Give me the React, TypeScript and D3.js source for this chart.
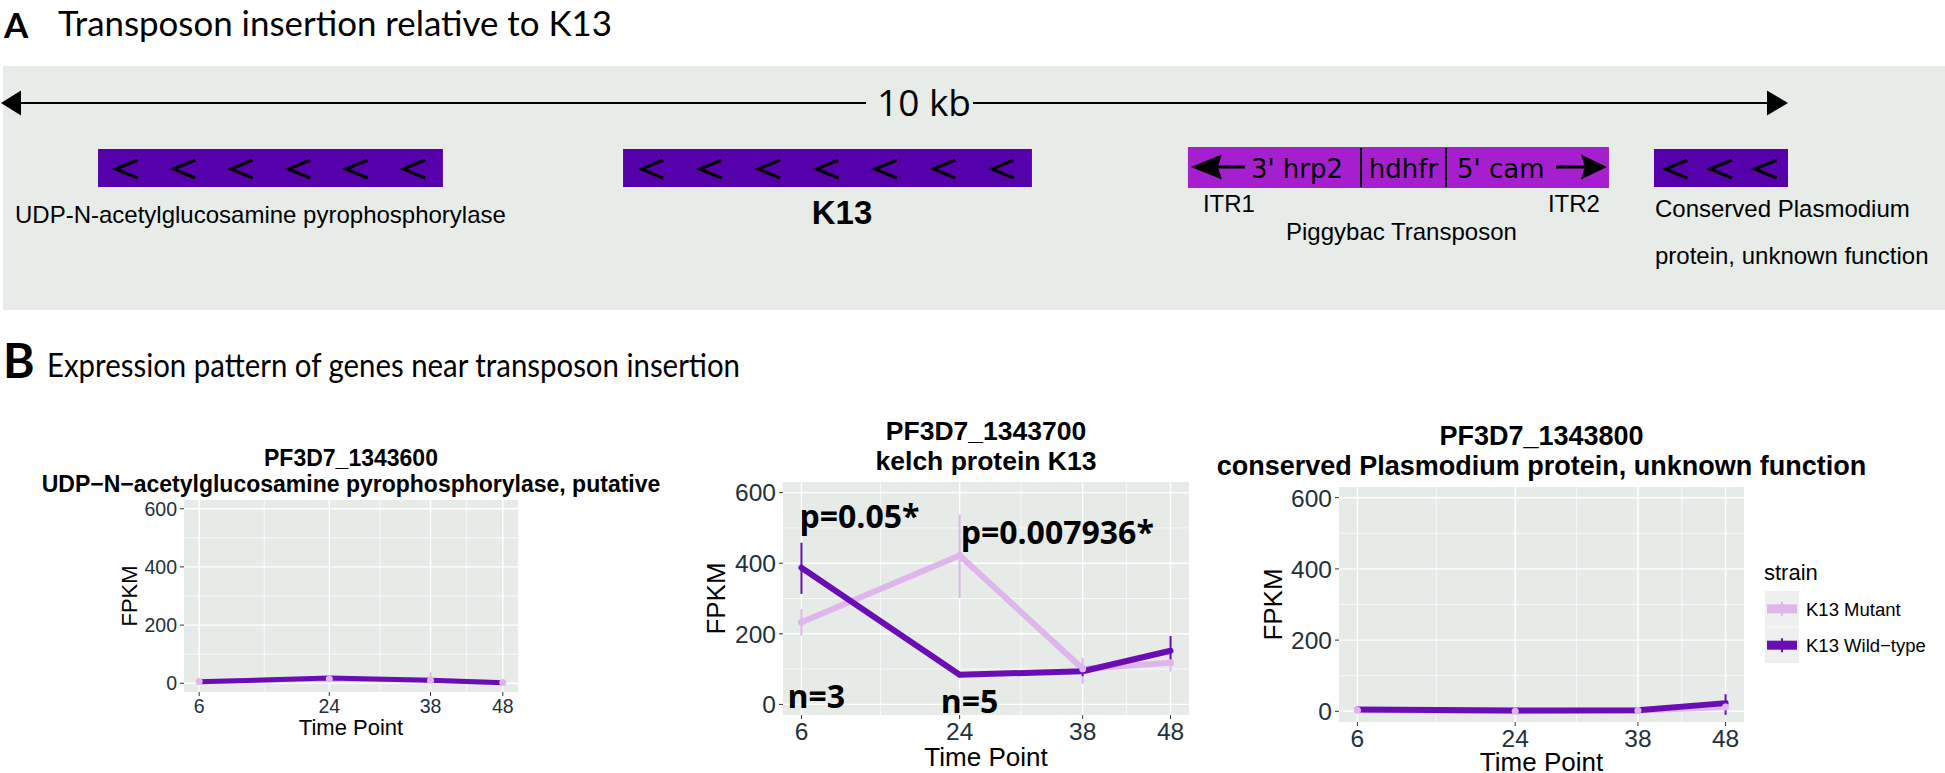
import React from "react";
import * as d3 from "d3";

// ---------- Panel B data ----------
const timePoints = [6, 24, 38, 48];
const xTickValues = [6, 24, 38, 48];
const xMinorValues = [15, 31, 43];
const yTickValues = [0, 200, 400, 600];
const yMinorValues = [100, 300, 500];
const strainNames = ["K13 Mutant", "K13 Wild\u2212type"];

const geneIds = ["PF3D7_1343600", "PF3D7_1343700", "PF3D7_1343800"];
const geneDescriptions = [
  "UDP\u2212N\u2212acetylglucosamine pyrophosphorylase, putative",
  "kelch protein K13",
  "conserved Plasmodium protein, unknown function",
];

const mutantMean1 = [6, 15, 10, 3];
const mutantLow1 = [2, 9, 0, 0];
const mutantHigh1 = [10, 22, 38, 8];
const wildMean1 = [5, 18, 10, 2];
const wildLow1 = [2, 12, 4, 0];
const wildHigh1 = [8, 24, 16, 5];

const mutantMean2 = [233, 422, 101, 118];
const mutantLow2 = [195, 301, 59, 93];
const mutantHigh2 = [270, 538, 132, 140];
const wildMean2 = [387, 84, 94, 152];
const wildLow2 = [313, 76, 80, 115];
const wildHigh2 = [458, 92, 108, 194];

const mutantMean3 = [3, 0, 2, 12];
const mutantLow3 = [0, 0, 0, 2];
const mutantHigh3 = [6, 2, 4, 22];
const wildMean3 = [5, 2, 3, 23];
const wildLow3 = [2, 0, 1, -10];
const wildHigh3 = [8, 4, 5, 48];

const annotLabels2 = ["p=0.05*", "p=0.007936*", "n=3", "n=5"];
const annotTime2 = [6, 24, 6, 24];
const annotValue2 = [500, 453, -11, -25];

// ---------- Panel A data ----------
const mapLengthKb = 10;
const geneLabels = ["UDP-N-acetylglucosamine pyrophosphorylase", "K13", "Conserved Plasmodium|protein, unknown function"];
const geneStartKb = [0.543, 3.481, 9.25];
const geneEndKb = [2.473, 5.769, 10.0];
const geneChevrons = [6, 7, 3];
const transposonBoundsKb = [6.642, 7.611, 8.086, 8.998];
const transposonParts = ["3' hrp2", "hdhfr", "5' cam"];

// ---------- styling ----------
const GENE_COLOR = "#5500aa";
const TRANS_COLOR = "#a61fcf";
const BG_A = "#e7ece9";
const PANEL_BG = "#e6ebe8";
const MUT_COLOR = "#dfb6ea";
const WT_COLOR = "#6a0db5";
const TICK_TEXT = "#22313a";

type Cfg = {
  left: number; right: number; top: number; bottom: number;
  t1: number; t2: number; titleSize: number; tickSize: number; axisSize: number;
  fpkmX: number; xTickY: number; xTitleY: number; lw: number;
};

const cfgs: Cfg[] = [
  { left: 184, right: 518, top: 500, bottom: 692, t1: 466, t2: 492, titleSize: 23, tickSize: 19.5, axisSize: 22, fpkmX: 137, xTickY: 713, xTitleY: 735, lw: 5 },
  { left: 783, right: 1189, top: 482, bottom: 715, t1: 440, t2: 470, titleSize: 26.5, tickSize: 24.5, axisSize: 26, fpkmX: 725, xTickY: 740, xTitleY: 766, lw: 6 },
  { left: 1339, right: 1744, top: 487, bottom: 722, t1: 445, t2: 475, titleSize: 27, tickSize: 24.5, axisSize: 26, fpkmX: 1282, xTickY: 747, xTitleY: 771, lw: 6 },
];

const series = [
  { mm: mutantMean1, ml: mutantLow1, mh: mutantHigh1, wm: wildMean1, wl: wildLow1, wh: wildHigh1 },
  { mm: mutantMean2, ml: mutantLow2, mh: mutantHigh2, wm: wildMean2, wl: wildLow2, wh: wildHigh2 },
  { mm: mutantMean3, ml: mutantLow3, mh: mutantHigh3, wm: wildMean3, wl: wildLow3, wh: wildHigh3 },
];

function ExprChart({ idx }: { idx: number }) {
  const c = cfgs[idx];
  const s = series[idx];
  const x = d3.scaleLinear().domain([6 - 2.1, 48 + 2.1]).range([c.left, c.right]);
  const y = d3.scaleLinear().domain([-30, 630]).range([c.bottom, c.top]);
  const line = d3.line<number>().x((_, i) => x(timePoints[i])).y((d) => y(d));
  const cx = (c.left + c.right) / 2;
  const cy = (c.top + c.bottom) / 2;
  const font = "'Liberation Sans', Arial, sans-serif";
  const groups = [
    { mean: s.mm, lo: s.ml, hi: s.mh, color: MUT_COLOR },
    { mean: s.wm, lo: s.wl, hi: s.wh, color: WT_COLOR },
  ];
  return (
    <g>
      <text x={cx} y={c.t1} textAnchor="middle" fontFamily={font} fontWeight="bold" fontSize={c.titleSize}>{geneIds[idx]}</text>
      <text x={cx} y={c.t2} textAnchor="middle" fontFamily={font} fontWeight="bold" fontSize={c.titleSize}>{geneDescriptions[idx]}</text>
      <rect x={c.left} y={c.top} width={c.right - c.left} height={c.bottom - c.top} fill={PANEL_BG} />
      {yMinorValues.map((v) => (
        <line key={"ym" + v} x1={c.left} x2={c.right} y1={y(v)} y2={y(v)} stroke="#fff" strokeWidth={0.7} />
      ))}
      {xMinorValues.map((v) => (
        <line key={"xm" + v} y1={c.top} y2={c.bottom} x1={x(v)} x2={x(v)} stroke="#fff" strokeWidth={0.7} />
      ))}
      {yTickValues.map((v) => (
        <line key={"yM" + v} x1={c.left} x2={c.right} y1={y(v)} y2={y(v)} stroke="#fff" strokeWidth={1.4} />
      ))}
      {xTickValues.map((v) => (
        <line key={"xM" + v} y1={c.top} y2={c.bottom} x1={x(v)} x2={x(v)} stroke="#fff" strokeWidth={1.4} />
      ))}
      {groups.map((g, gi) => (
        <path key={"l" + gi} d={line(g.mean) || ""} fill="none" stroke={g.color} strokeWidth={c.lw} strokeLinejoin="round" strokeLinecap="round" />
      ))}
      {groups.map((g, gi) =>
        timePoints.map((t, i) => (
          <line key={"e" + gi + "-" + i} x1={x(t)} x2={x(t)} y1={y(g.lo[i])} y2={y(g.hi[i])} stroke={g.color} strokeWidth={2} />
        ))
      )}
      {timePoints.map((t, i) => (
        <circle key={"p" + i} cx={x(t)} cy={y(s.mm[i])} r={3.5} fill={MUT_COLOR} />
      ))}
      {yTickValues.map((v) => (
        <g key={"yt" + v}>
          <line x1={c.left - 4} x2={c.left} y1={y(v)} y2={y(v)} stroke="#333" strokeWidth={1} />
          <text x={c.left - 7} y={y(v)} dy="0.36em" textAnchor="end" fontFamily={font} fontSize={c.tickSize} fill={TICK_TEXT}>{v}</text>
        </g>
      ))}
      {xTickValues.map((v) => (
        <g key={"xt" + v}>
          <line y1={c.bottom} y2={c.bottom + 4} x1={x(v)} x2={x(v)} stroke="#333" strokeWidth={1} />
          <text x={x(v)} y={c.xTickY} textAnchor="middle" fontFamily={font} fontSize={c.tickSize} fill={TICK_TEXT}>{v}</text>
        </g>
      ))}
      <text x={cx} y={c.xTitleY} textAnchor="middle" fontFamily={font} fontSize={c.axisSize}>Time Point</text>
      <text transform={`translate(${c.fpkmX},${cy}) rotate(-90)`} textAnchor="middle" fontFamily={font} fontSize={c.axisSize}>FPKM</text>
      {idx === 1 &&
        annotLabels2.map((lab, i) => (
          <text key={"a" + i} x={x(annotTime2[i]) + (i === 0 ? -2 : i === 1 ? 1 : i === 2 ? -14 : -19)} y={y(annotValue2[i])} fontFamily="'Open Sans', sans-serif" fontWeight="bold" fontSize={32}>{lab}</text>
        ))}
    </g>
  );
}

function Legend() {
  const font = "'Liberation Sans', Arial, sans-serif";
  const colors = [MUT_COLOR, WT_COLOR];
  const keyY = d3.scaleBand<number>().domain([0, 1]).range([591, 663]).paddingInner(0.02);
  return (
    <g>
      <text x={1764} y={580} fontFamily={font} fontSize={22}>strain</text>
      {strainNames.map((n, i) => {
        const y0 = keyY(i) || 0;
        const h = keyY.bandwidth();
        const yc = y0 + h / 2;
        return (
          <g key={n}>
            <rect x={1765} y={y0} width={34} height={h} fill="#eef0ef" />
            <line x1={1767} x2={1797} y1={yc} y2={yc} stroke={colors[i]} strokeWidth={9} />
            <line x1={1782} x2={1782} y1={yc - 7} y2={yc + 7} stroke={colors[i]} strokeWidth={2} />
            <text x={1806} y={yc + 7} fontFamily={font} fontSize={18.5}>{n}</text>
          </g>
        );
      })}
    </g>
  );
}

function GeneMap() {
  const kb = d3.scaleLinear().domain([0, mapLengthKb]).range([1, 1788]);
  const arrowY = 103;
  const boxTop = 149;
  const boxH = 38;
  const sans = "'Liberation Sans', Arial, sans-serif";
  const chev = (cx: number, cy: number) => `M${cx + 11},${cy - 9}L${cx - 11},${cy}L${cx + 11},${cy + 9}`;
  const tb = transposonBoundsKb.map((v) => kb(v));
  const tMid = boxTop + boxH / 2 - 1;
  return (
    <g>
      <rect x={3} y={66} width={1942} height={244} fill={BG_A} />
      <line x1={kb(0) + 15} x2={866} y1={arrowY} y2={arrowY} stroke="#000" strokeWidth={2.2} />
      <line x1={973} x2={kb(mapLengthKb) - 18} y1={arrowY} y2={arrowY} stroke="#000" strokeWidth={2.2} />
      <path d={`M${kb(0)},${arrowY}L${kb(0) + 20},${arrowY - 12.5}L${kb(0) + 20},${arrowY + 12.5}Z`} fill="#000" />
      <path d={`M${kb(mapLengthKb)},${arrowY}L${kb(mapLengthKb) - 21},${arrowY - 12.5}L${kb(mapLengthKb) - 21},${arrowY + 12.5}Z`} fill="#000" />
      <text x={877} y={116} fontFamily="'Open Sans', sans-serif" fontSize={37}>10 kb</text>
      {geneStartKb.map((s0, i) => {
        const x0 = kb(s0);
        const x1 = kb(geneEndKb[i]);
        const step = (x1 - x0) / geneChevrons[i];
        return (
          <g key={"g" + i}>
            <rect x={x0} y={boxTop} width={x1 - x0} height={boxH} fill={GENE_COLOR} />
            {d3.range(geneChevrons[i]).map((j) => (
              <path key={j} d={chev(x0 + (j + 0.5) * step, boxTop + boxH / 2 + 1)} fill="none" stroke="#000" strokeWidth={3} />
            ))}
          </g>
        );
      })}
      <text x={15} y={223} fontFamily={sans} fontSize={24}>{geneLabels[0]}</text>
      <text x={842} y={224} textAnchor="middle" fontFamily={sans} fontWeight="bold" fontSize={33}>{geneLabels[1]}</text>
      {geneLabels[2].split("|").map((t, i) => (
        <text key={t} x={kb(geneStartKb[2]) + 1} y={217 + i * 47} fontFamily={sans} fontSize={24}>{t}</text>
      ))}
      <rect x={tb[0]} y={boxTop - 2} width={tb[3] - tb[0]} height={boxH + 3} fill={TRANS_COLOR} />
      <line x1={tb[1]} x2={tb[1]} y1={boxTop - 1} y2={boxTop + boxH} stroke="#000" strokeWidth={2} />
      <line x1={tb[2]} x2={tb[2]} y1={boxTop - 1} y2={boxTop + boxH} stroke="#000" strokeWidth={2} />
      <line x1={tb[0] + 28} x2={tb[0] + 57} y1={tMid} y2={tMid} stroke="#000" strokeWidth={3} />
      <path d={`M${tb[0] + 3},${tMid}L${tb[0] + 34},${tMid - 12.5}L${tb[0] + 30},${tMid}L${tb[0] + 34},${tMid + 12.5}Z`} fill="#000" />
      <line x1={tb[3] - 53} x2={tb[3] - 24} y1={tMid} y2={tMid} stroke="#000" strokeWidth={3} />
      <path d={`M${tb[3] - 2},${tMid}L${tb[3] - 28},${tMid - 12.5}L${tb[3] - 24},${tMid}L${tb[3] - 28},${tMid + 12.5}Z`} fill="#000" />
      <text x={tb[1] - 18} y={178} textAnchor="end" fontFamily="'DejaVu Sans', sans-serif" fontSize={26}>{transposonParts[0]}</text>
      <text x={(tb[1] + tb[2]) / 2} y={178} textAnchor="middle" fontFamily="'DejaVu Sans', sans-serif" fontSize={26}>{transposonParts[1]}</text>
      <text x={tb[2] + 11} y={178} fontFamily="'DejaVu Sans', sans-serif" fontSize={26}>{transposonParts[2]}</text>
      <text x={tb[0] + 15} y={212} fontFamily={sans} fontSize={24}>ITR1</text>
      <text x={tb[3] - 9} y={212} textAnchor="end" fontFamily={sans} fontSize={24}>ITR2</text>
      <text x={(tb[0] + tb[3]) / 2 + 3} y={240} textAnchor="middle" fontFamily={sans} fontSize={24}>Piggybac Transposon</text>
    </g>
  );
}

export default function App() {
  return (
    <svg width={1945} height={773} style={{ position: "absolute", left: 0, top: 0, background: "#fff" }}>
      <rect x={0} y={0} width={1945} height={773} fill="#fff" />
      <text x={4} y={38} fontFamily="Lato, sans-serif" fontWeight="bold" fontSize={35}>A</text>
      <text x={58} y={36} fontFamily="Lato, sans-serif" fontSize={34} textLength={554} lengthAdjust="spacingAndGlyphs">Transposon insertion relative to K13</text>
      <GeneMap />
      <text x={3} y={378} fontFamily="Lato, sans-serif" fontWeight="bold" fontSize={48}>B</text>
      <text x={47} y={377} fontFamily="Lato, sans-serif" fontSize={32} textLength={693} lengthAdjust="spacingAndGlyphs">Expression pattern of genes near transposon insertion</text>
      {[0, 1, 2].map((i) => (
        <ExprChart key={i} idx={i} />
      ))}
      <Legend />
    </svg>
  );
}
